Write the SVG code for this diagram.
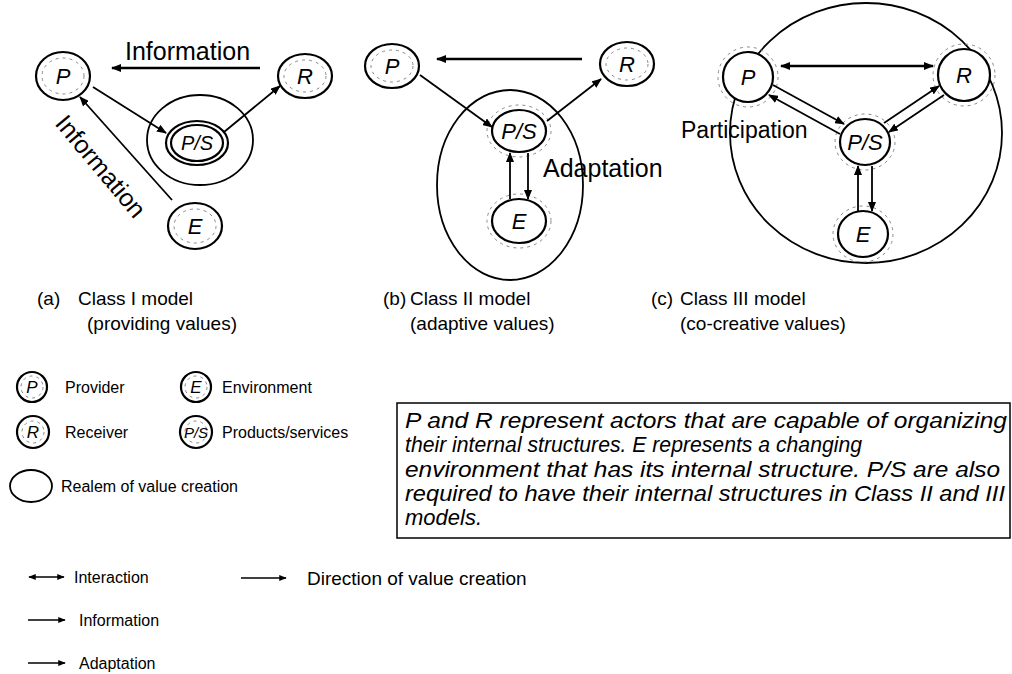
<svg xmlns="http://www.w3.org/2000/svg" width="1012" height="674" viewBox="0 0 1012 674">
<defs>
<marker id="ah" viewBox="0 0 10 8" refX="9" refY="4" markerWidth="10" markerHeight="8" markerUnits="userSpaceOnUse" orient="auto"><path d="M0,0 L10,4 L0,8 Z" fill="#000"/></marker>
<marker id="ahs" viewBox="0 0 10 8" refX="9" refY="4" markerWidth="8" markerHeight="6" markerUnits="userSpaceOnUse" orient="auto"><path d="M0,0 L10,4 L0,8 Z" fill="#000"/></marker>
<marker id="ahsr" viewBox="0 0 10 8" refX="1" refY="4" markerWidth="8" markerHeight="6" markerUnits="userSpaceOnUse" orient="auto"><path d="M10,0 L0,4 L10,8 Z" fill="#000"/></marker>
<marker id="ahr" viewBox="0 0 10 8" refX="1" refY="4" markerWidth="10" markerHeight="8" markerUnits="userSpaceOnUse" orient="auto"><path d="M10,0 L0,4 L10,8 Z" fill="#000"/></marker>
</defs>
<style>
text{font-family:"Liberation Sans",Arial,sans-serif;fill:#000}
.ring{fill:#fff;stroke:#000;stroke-width:2.2}
.tex{fill:none;stroke:#888;stroke-width:1;stroke-dasharray:3 4}
.realm{fill:none;stroke:#000;stroke-width:1.8}
.lbl{font-size:22px;font-style:italic;text-anchor:middle}
.lblps{font-size:22px;font-style:italic;text-anchor:middle}
.lblg{font-size:17px;font-style:italic;text-anchor:middle}
.cap{font-size:19px}
.big{font-size:25px}
.leg{font-size:16px}
.box{font-size:22px;font-style:italic}
.ar{stroke:#000;stroke-width:1.8;fill:none;marker-end:url(#ah)}
.arT{stroke:#000;stroke-width:2.6;fill:none;marker-end:url(#ah)}
.arL{stroke:#000;stroke-width:1.6;fill:none;marker-end:url(#ahs)}
</style>

<!-- Panel (a) -->
<g id="a-realm"><ellipse class="realm" cx="200" cy="140" rx="53" ry="45"/></g>
<g id="a-P"><ellipse class="ring" cx="63" cy="76" rx="27" ry="24"/><ellipse class="tex" cx="63" cy="76" rx="21" ry="18"/><text class="lbl" x="63" y="84">P</text></g>
<g id="a-R"><ellipse class="ring" cx="305" cy="76" rx="27" ry="22"/><ellipse class="tex" cx="305" cy="76" rx="21" ry="16"/><text class="lbl" x="305" y="84">R</text></g>
<g id="a-PS"><ellipse class="ring" cx="197" cy="143" rx="31" ry="22"/><ellipse class="ring" cx="197" cy="143" rx="26" ry="18"/><text class="lblps" x="197" y="150" style="font-size:20px">P/S</text></g>
<g id="a-E"><ellipse class="ring" cx="195" cy="226" rx="27" ry="23"/><ellipse class="tex" cx="195" cy="226" rx="21" ry="17"/><text class="lbl" x="195" y="234">E</text></g>

<!-- Panel (b) -->
<g id="b-realm"><ellipse class="realm" cx="510" cy="185" rx="73" ry="95"/></g>
<g id="b-P"><ellipse class="ring" cx="392" cy="66" rx="27" ry="22"/><ellipse class="tex" cx="392" cy="66" rx="21" ry="16"/><text class="lbl" x="392" y="74">P</text></g>
<g id="b-R"><ellipse class="ring" cx="627" cy="64" rx="27" ry="22"/><ellipse class="tex" cx="627" cy="64" rx="21" ry="16"/><text class="lbl" x="627" y="72">R</text></g>
<g id="b-PS"><ellipse class="ring" cx="519" cy="131" rx="27" ry="21"/><ellipse class="tex" cx="519" cy="131" rx="32" ry="26"/><text class="lblps" x="519" y="139">P/S</text></g>
<g id="b-E"><ellipse class="ring" cx="519" cy="221" rx="27" ry="22"/><ellipse class="tex" cx="519" cy="221" rx="32" ry="27"/><text class="lbl" x="519" y="229">E</text></g>

<!-- Panel (c) -->
<g id="c-realm"><ellipse class="realm" cx="866" cy="133" rx="136" ry="130"/></g>
<g id="c-P"><ellipse class="ring" cx="748" cy="77" rx="25" ry="25"/><ellipse class="tex" cx="748" cy="77" rx="30" ry="30"/><text class="lbl" x="748" y="85">P</text></g>
<g id="c-R"><ellipse class="ring" cx="964" cy="75" rx="26" ry="26"/><ellipse class="tex" cx="964" cy="75" rx="31" ry="31"/><text class="lbl" x="964" y="83">R</text></g>
<g id="c-PS"><ellipse class="ring" cx="865" cy="142" rx="25" ry="23"/><ellipse class="tex" cx="865" cy="142" rx="30" ry="28"/><text class="lblps" x="865" y="150">P/S</text></g>
<g id="c-E"><ellipse class="ring" cx="863" cy="234" rx="25" ry="23"/><ellipse class="tex" cx="863" cy="234" rx="30" ry="28"/><text class="lbl" x="863" y="242">E</text></g>

<!-- Connectors -->
<g id="connectors">
<line class="arT" x1="260" y1="68" x2="112" y2="68"/>
<line class="ar" x1="93" y1="87" x2="166" y2="133"/>
<line class="ar" x1="224" y1="132" x2="280" y2="86"/>
<line class="ar" x1="172" y1="200" x2="80" y2="97"/>
<line class="arT" x1="582" y1="59" x2="437" y2="59"/>
<line class="ar" x1="420" y1="75" x2="492" y2="127"/>
<line class="ar" x1="547" y1="121" x2="601" y2="79"/>
<line class="ar" x1="510" y1="199" x2="510" y2="153"/>
<line class="ar" x1="528" y1="153" x2="528" y2="199"/>
<line x1="781" y1="66" x2="933" y2="66" stroke="#000" stroke-width="2.4" marker-start="url(#ahr)" marker-end="url(#ah)"/>
<line class="ar" x1="773" y1="85" x2="844" y2="124"/>
<line class="ar" x1="840" y1="134" x2="769" y2="95"/>
<line class="ar" x1="884" y1="123" x2="939" y2="86"/>
<line class="ar" x1="944" y1="95" x2="889" y2="132"/>
<line class="ar" x1="858" y1="211" x2="858" y2="166"/>
<line class="ar" x1="872" y1="166" x2="872" y2="211"/>
</g>

<!-- Panel labels -->
<text class="big" x="125" y="60">Information</text>
<text class="big" x="101" y="166" text-anchor="middle" transform="rotate(50 101 166)" dy="9">Information</text>
<text class="big" x="543" y="177">Adaptation</text>
<text class="big" x="681" y="138" style="font-size:23px">Participation</text>

<text class="cap" x="37" y="305">(a)</text><text class="cap" x="78" y="305">Class I model</text>
<text class="cap" x="87" y="330">(providing values)</text>
<text class="cap" x="383" y="305">(b)</text><text class="cap" x="410" y="305">Class II model</text>
<text class="cap" x="410" y="330">(adaptive values)</text>
<text class="cap" x="651" y="305">(c)</text><text class="cap" x="680" y="305">Class III model</text>
<text class="cap" x="680" y="330">(co-creative values)</text>

<!-- Legend nodes -->
<g id="leg-P"><circle class="ring" cx="32" cy="387" r="15"/><circle class="tex" cx="32" cy="387" r="11"/><text class="lblg" x="32" y="393">P</text></g>
<text class="leg" x="65" y="393">Provider</text>
<g id="leg-E"><circle class="ring" cx="196" cy="387" r="15"/><circle class="tex" cx="196" cy="387" r="11"/><text class="lblg" x="196" y="393">E</text></g>
<text class="leg" x="222" y="393">Environment</text>
<g id="leg-R"><circle class="ring" cx="33" cy="432" r="16"/><circle class="tex" cx="33" cy="432" r="11"/><text class="lblg" x="33" y="438">R</text></g>
<text class="leg" x="65" y="438">Receiver</text>
<g id="leg-PS"><circle class="ring" cx="196" cy="432" r="16"/><circle class="tex" cx="196" cy="432" r="11"/><text class="lblg" x="196" y="438" style="font-size:15px">P/S</text></g>
<text class="leg" x="222" y="438">Products/services</text>
<g id="leg-realm"><ellipse class="realm" cx="31" cy="486" rx="21" ry="16"/></g>
<text class="leg" x="61" y="492">Realem of value creation</text>

<!-- Note box -->
<g id="note">
<rect x="397" y="403" width="613" height="135" fill="none" stroke="#000" stroke-width="1.5"/>
<text class="box" x="405" y="428" textLength="602" lengthAdjust="spacingAndGlyphs">P and R represent actors that are capable of organizing</text>
<text class="box" x="405" y="452" textLength="457" lengthAdjust="spacingAndGlyphs">their internal structures.  E represents a changing</text>
<text class="box" x="405" y="477" textLength="595" lengthAdjust="spacingAndGlyphs">environment that has its internal structure. P/S are also</text>
<text class="box" x="405" y="501" textLength="600" lengthAdjust="spacingAndGlyphs">required to have their internal structures in Class II and III</text>
<text class="box" x="405" y="525">models.</text>
</g>

<!-- Line legend -->
<g id="line-legend">
<line x1="29" y1="577" x2="64" y2="577" stroke="#000" stroke-width="1.6" marker-start="url(#ahsr)" marker-end="url(#ahs)"/>
<text class="leg" x="74" y="583">Interaction</text>
<line class="arL" x1="241" y1="578" x2="286" y2="578"/>
<text x="307" y="585" style="font-size:19px">Direction of value creation</text>
<line class="arL" x1="28" y1="620" x2="65" y2="620"/>
<text class="leg" x="79" y="626">Information</text>
<line class="arL" x1="28" y1="663" x2="65" y2="663"/>
<text class="leg" x="79" y="669">Adaptation</text>
</g>
</svg>
